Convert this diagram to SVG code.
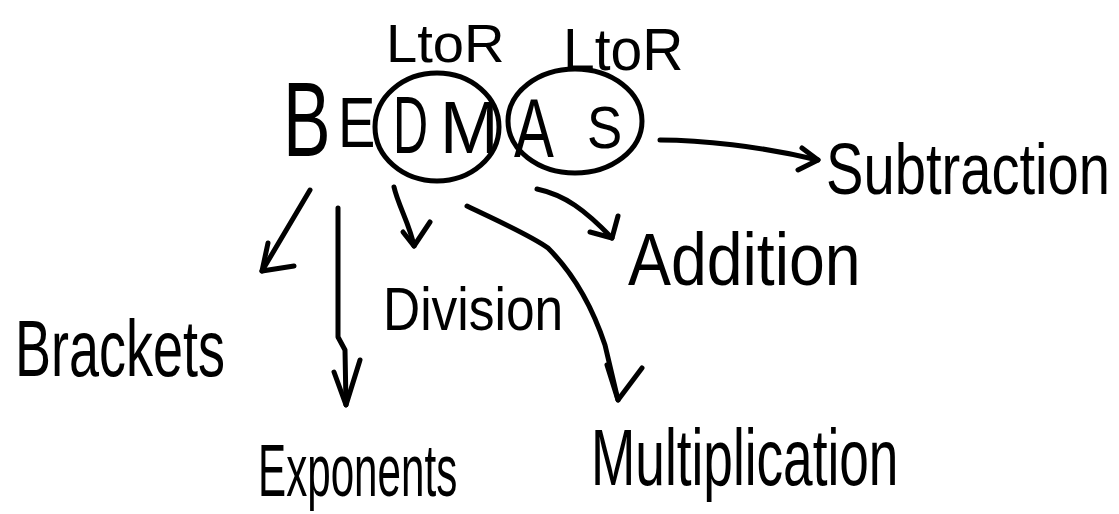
<svg xmlns="http://www.w3.org/2000/svg" width="1119" height="514" viewBox="0 0 1119 514">
<style>
.t{font-family:"Liberation Sans",Arial,sans-serif;fill:#000}
.s{fill:none;stroke:#000;stroke-width:5;stroke-linecap:round;stroke-linejoin:round}
</style>
<rect width="1119" height="514" fill="#fff"/>
<g id="bedmas">
<text class="t" transform="translate(283,156) scale(0.68,1)" font-size="105">B</text>
<text class="t" transform="translate(338,147) scale(0.8,1)" font-size="70">E</text>
</g>
<g id="dm-group">
<ellipse class="s" cx="437" cy="127" rx="62" ry="54"/>
<text class="t" transform="translate(393,153) scale(0.6,1)" font-size="81">D</text>
<text class="t" transform="translate(440,153) scale(0.95,1)" font-size="74">M</text>
<text class="t" transform="translate(386,62) scale(1.04,1)" font-size="54">LtoR</text>
</g>
<g id="as-group">
<ellipse class="s" cx="575" cy="121" rx="67" ry="52"/>
<text class="t" transform="translate(514,157) scale(0.72,1)" font-size="83">A</text>
<text class="t" transform="translate(587,148) scale(0.88,1)" font-size="60">S</text>
<text class="t" transform="translate(563,70) scale(0.95,1)" font-size="60">LtoR</text>
</g>
<g id="brackets"><text class="t" transform="translate(15,376) scale(0.675,1)" font-size="80">Brackets</text></g>
<g id="exponents"><text class="t" transform="translate(258,496) scale(0.57,1)" font-size="74">Exponents</text></g>
<g id="division"><text class="t" transform="translate(383,330) scale(0.83,1)" font-size="62">Division</text></g>
<g id="multiplication"><text class="t" transform="translate(591,485) scale(0.665,1)" font-size="80">Multiplication</text></g>
<g id="addition"><text class="t" transform="translate(628,285) scale(0.87,1)" font-size="74">Addition</text></g>
<g id="subtraction"><text class="t" transform="translate(826,194) scale(0.78,1)" font-size="72">Subtraction</text></g>
<g id="connectors">
<path class="s" d="M660 140 C700 140 760 146 818 160"/>
<path class="s" d="M802 148 L818 160 L798 170"/>
<path class="s" d="M310 190 L262 271"/>
<path class="s" d="M268 243 L262 271 L294 266"/>
<path class="s" d="M338 208 L338 337 L345 350 L346 405"/>
<path class="s" d="M334 372 L346 405 L360 360"/>
<path class="s" d="M394 187 C398 205 410 225 414 246"/>
<path class="s" d="M403 232 L414 246 L430 222"/>
<path class="s" d="M467 206 C500 222 530 235 548 248 C570 270 590 300 605 345 L618 400"/>
<path class="s" d="M607 365 L618 400 L642 368"/>
<path class="s" d="M537 189 C565 195 585 210 612 238"/>
<path class="s" d="M590 232 L612 238 L618 216"/>
</g>
</svg>
